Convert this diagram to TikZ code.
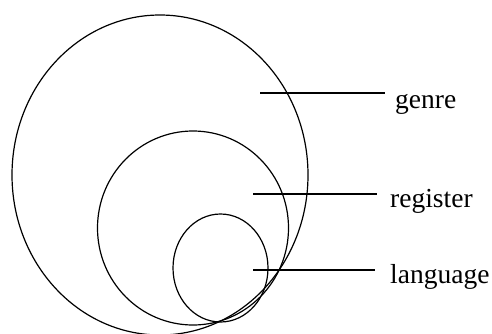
\documentclass[tikz,border=0pt]{standalone}
\usepackage{fontspec}
\setmainfont{Liberation Serif}
\begin{document}
\begin{tikzpicture}[x=1pt,y=1pt,
  ring/.style={line width=1.2pt,black},
  leader/.style={line width=1.2pt,black},
  lbl/.style={anchor=base west,inner sep=0pt,font=\fontsize{27.5}{32}\selectfont}]
\useasboundingbox (0,0) rectangle (492,333);
\draw[ring] (160,158) ellipse [x radius=148,y radius=160];
\draw[ring] (193,105) ellipse [x radius=95.5,y radius=97];
\draw[ring] (220.5,65) ellipse [x radius=47.5,y radius=54];
\node[lbl] (genre) at (395,225) {genre};
\node[lbl] (register) at (390,126) {register};
\node[lbl] (language) at (390,50) {language};
\coordinate (g1) at (260,240);
\coordinate (g2) at (385,240);
\coordinate (r1) at (253,139);
\coordinate (r2) at (377,139);
\coordinate (l1) at (253,63);
\coordinate (l2) at (375,63);
\draw[leader] (g1) -- (g2);
\draw[leader] (r1) -- (r2);
\draw[leader] (l1) -- (l2);
\end{tikzpicture}
\end{document}
